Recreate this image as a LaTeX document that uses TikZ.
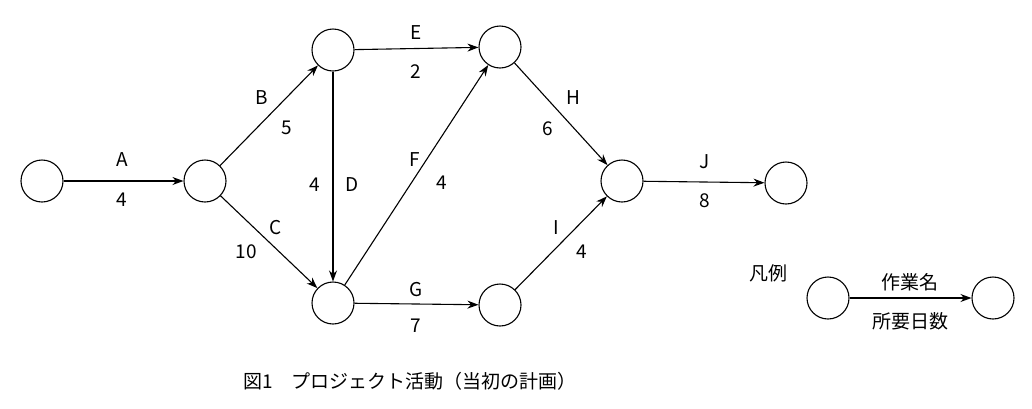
\documentclass[tikz,border=0pt]{standalone}
\usepackage{fontspec}
\setmainfont{Noto Sans CJK JP}
\usetikzlibrary{arrows.meta}
\begin{document}
\begin{tikzpicture}[x=1pt,y=-1pt,
  ev/.style={circle,draw,line width=1.1pt,minimum size=42pt,inner sep=0pt},
  act/.style={draw,line width=1.1pt,-{Stealth[length=11pt,width=8pt]}},
  lb/.style={font=\fontsize{19}{19}\selectfont,inner sep=0pt}]
\useasboundingbox (0,0) rectangle (1032,408);
\node[ev] (n1) at (42,181) {};
\node[ev] (n2) at (205,181) {};
\node[ev] (n3) at (333,50) {};
\node[ev] (n4) at (333,303) {};
\node[ev] (n5) at (500,47) {};
\node[ev] (n6) at (500,305) {};
\node[ev] (n7) at (622,181) {};
\node[ev] (n8) at (786,183) {};
\node[ev] (l1) at (828,298) {};
\node[ev] (l2) at (993,298) {};
\draw[act] (n1) -- (n2);
\draw[act] (n2) -- (n3);
\draw[act] (n2) -- (n4);
\draw[act] (n3) -- (n4);
\draw[act] (n3) -- (n5);
\draw[act] (n4) -- (n5);
\draw[act] (n4) -- (n6);
\draw[act] (n5) -- (n7);
\draw[act] (n6) -- (n7);
\draw[act] (n7) -- (n8);
\draw[act] (l1) -- (l2);
\node[lb] (tA) at (122,160) {A};
\node[lb] (dA) at (122,200) {4};
\node[lb] (tB) at (262,98) {B};
\node[lb] (dB) at (287,128) {5};
\node[lb] (tC) at (276,228) {C};
\node[lb] (dC) at (246,252) {10};
\node[lb] (dD) at (315,185) {4};
\node[lb] (tD) at (352,185) {D};
\node[lb] (tE) at (416,33) {E};
\node[lb] (dE) at (416,72) {2};
\node[lb] (tF) at (415,160) {F};
\node[lb] (dF) at (442,183) {4};
\node[lb] (tG) at (416,290) {G};
\node[lb] (dG) at (416,326) {7};
\node[lb] (tH) at (573,98) {H};
\node[lb] (dH) at (548,129) {6};
\node[lb] (tI) at (556,228) {I};
\node[lb] (dI) at (582,252) {4};
\node[lb] (tJ) at (705,162) {J};
\node[lb] (dJ) at (705,201) {8};
\node[lb] (leg) at (768,273) {凡例};
\node[lb] (lt) at (910,282) {作業名};
\node[lb] (ld) at (910,321) {所要日数};
\node[lb] (cap) at (410,381) {図1　プロジェクト活動（当初の計画）};
\end{tikzpicture}
\end{document}
